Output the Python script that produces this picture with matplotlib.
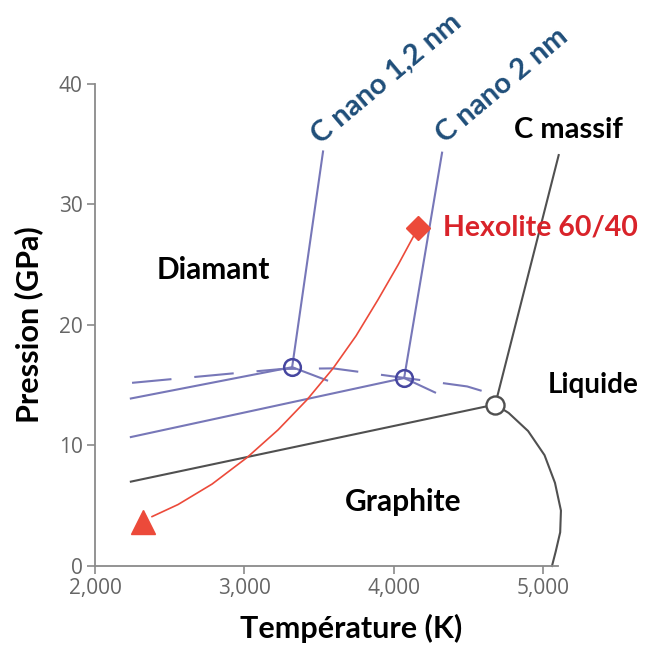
import matplotlib
matplotlib.use("Agg")
import matplotlib.pyplot as plt

# ---------------- data (T in K, P in GPa) ----------------
# bulk carbon (black)
gd_bulk_T = [2240, 4680]
gd_bulk_P = [7.0, 13.4]
dl_bulk_T = [4680, 5105]
dl_bulk_P = [13.4, 34.1]
gl_bulk_T = [4680, 4770, 4900, 5010, 5080, 5120, 5115, 5085, 5060]
gl_bulk_P = [13.4, 12.7, 11.2, 9.2, 6.9, 4.6, 2.8, 1.2, 0.0]
tp_bulk = (4680, 13.4)

# nano 1.2 nm (blue)
gd_n12_T = [2240, 3320]
gd_n12_P = [13.9, 16.5]
dl_n12_T = [3320, 3527]
dl_n12_P = [16.5, 34.4]
gl_n12_T = [3320, 3554]
gl_n12_P = [16.5, 15.4]
tp_n12 = (3320, 16.5)

# nano 2 nm (blue)
gd_n2_T = [2240, 4070]
gd_n2_P = [10.7, 15.6]
dl_n2_T = [4070, 4324]
dl_n2_P = [15.6, 34.3]
gl_n2_T = [4070, 4277]
gl_n2_P = [15.6, 14.4]
tp_n2 = (4070, 15.6)

# dashed curve
dash_T = [2248, 2938, 3252, 3594, 3775, 4197, 4492, 4626]
dash_P = [15.2, 16.0, 16.35, 16.4, 16.1, 15.4, 14.9, 14.4]

# hexolite path (red)
hex_T = [4163, 4030, 3895, 3748, 3594, 3420, 3226, 3018, 2784, 2556, 2382]
hex_P = [28.05, 25.0, 22.1, 19.1, 16.4, 13.8, 11.3, 9.0, 6.8, 5.1, 4.1]
hex_start = (4163, 28.05)
hex_end = (2321, 3.65)

xticks = [2000, 3000, 4000, 5000]
xticklabels = ["2,000", "3,000", "4,000", "5,000"]
yticks = [0, 10, 20, 30, 40]

# ---------------- styles ----------------
BLACK = "#505050"
BLUE = "#7777b8"
BLUE_DARK = "#4646a0"
RED = "#ec4a3a"
NAVY = "#1f4e79"
TXTRED = "#d9232a"

fig = plt.figure(figsize=(6.49, 6.49), dpi=100)
ax = fig.add_axes([0.1464, 0.1279, 0.8367 - 0.1464, 0.8706 - 0.1279])
ax.set_xlim(2000, 5000)
ax.set_ylim(0, 40)

for s in ["top", "right"]:
    ax.spines[s].set_visible(False)
for s in ["left", "bottom"]:
    ax.spines[s].set_color("#8a8a8a")
    ax.spines[s].set_linewidth(1.3)
ax.spines["bottom"].set_bounds(2000, 5100)
ax.spines["bottom"].set_clip_on(False)

ax.set_xticks(xticks)
ax.set_xticklabels(xticklabels)
ax.set_yticks(yticks)
ax.tick_params(axis="both", colors="#8a8a8a", length=6, width=1.2,
               labelcolor="#666666", labelsize=15, direction="out", pad=3)
for lab in ax.get_xticklabels() + ax.get_yticklabels():
    lab.set_fontfamily("Open Sans")

ax.set_xlabel("Température (K)", fontsize=22, fontweight="bold",
              fontfamily="Lato")
ax.set_ylabel("Pression (GPa)", fontsize=22, fontweight="bold",
              fontfamily="Lato")
ax.xaxis.set_label_coords(0.572, -0.10)
ax.yaxis.set_label_coords(-0.116, 0.50)

lw = 1.5
# blue dashed
ax.plot(dash_T, dash_P, color=BLUE, lw=lw, dashes=(19, 11), clip_on=False)
# blue nano lines
for T, P in [(gd_n12_T, gd_n12_P), (dl_n12_T, dl_n12_P), (gl_n12_T, gl_n12_P),
             (gd_n2_T, gd_n2_P), (dl_n2_T, dl_n2_P), (gl_n2_T, gl_n2_P)]:
    ax.plot(T, P, color=BLUE, lw=lw, clip_on=False)
# black bulk lines
for T, P in [(gd_bulk_T, gd_bulk_P), (dl_bulk_T, dl_bulk_P)]:
    ax.plot(T, P, color=BLACK, lw=lw, clip_on=False)
ax.plot(gl_bulk_T, gl_bulk_P, color=BLACK, lw=lw, clip_on=False)

# red path
ax.plot(hex_T, hex_P, color=RED, lw=1.2, zorder=4)
ax.plot(*hex_start, marker="D", ms=12, color=RED, mec=RED, zorder=5, clip_on=False)
ax.plot(*hex_end, marker="^", ms=17, color=RED, mec=RED, zorder=5)

# triple points
ax.plot(*tp_n12, marker="o", ms=12, mfc="none", mec=BLUE_DARK, mew=1.8, zorder=6)
ax.plot(*tp_n2, marker="o", ms=12, mfc="none", mec=BLUE_DARK, mew=1.8, zorder=6)
ax.plot(*tp_bulk, marker="o", ms=13, mfc="white", mec=BLACK, mew=1.7, zorder=6,
        clip_on=False)

# texts
tkw = dict(fontfamily="Lato", fontweight="bold")
ax.text(2790, 24.6, "Diamant", fontsize=21.5, color="black", ha="center", va="center", **tkw)
ax.text(4063, 5.3, "Graphite", fontsize=21.5, color="black", ha="center", va="center", **tkw)
ax.text(5034, 15.0, "Liquide", fontsize=20, color="black", ha="left", va="center", **tkw)
ax.text(5170, 36.2, "C massif", fontsize=21, color="black", ha="center", va="center", **tkw)
ax.text(4331, 28.05, "Hexolite 60/40", fontsize=20.5, color=TXTRED, ha="left", va="center", **tkw)
ax.text(3955, 40.4, "C nano 1,2 nm", fontsize=21, color=NAVY, ha="center", va="center",
        rotation=40, rotation_mode="anchor", **tkw)
ax.text(4726, 39.9, "C nano 2 nm", fontsize=21, color=NAVY, ha="center", va="center",
        rotation=40, rotation_mode="anchor", **tkw)

fig.savefig("out.png", dpi=100)
